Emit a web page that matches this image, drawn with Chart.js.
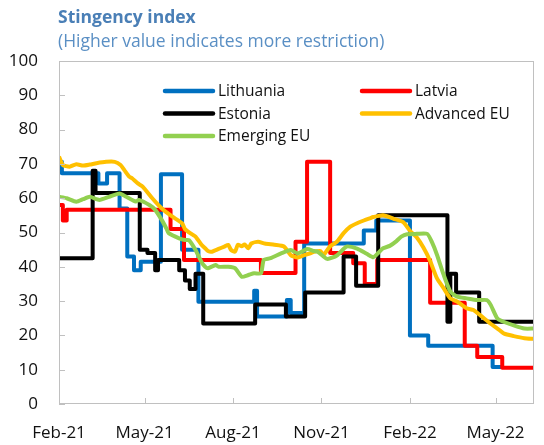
<!DOCTYPE html>
<html><head><meta charset="utf-8">
<script src="https://cdn.jsdelivr.net/npm/chart.js@4.4.1/dist/chart.umd.min.js"></script>
<style>html,body{margin:0;padding:0;background:#fff;} canvas{display:block;}</style>
</head><body>
<canvas id="c" width="544" height="445"></canvas>
<script>
// ---- data (x = days since 1 Feb 2021) ----
const tickDays = [0, 89, 181, 273, 365, 454];
const tickLabels = ['Feb-21', 'May-21', 'Aug-21', 'Nov-21', 'Feb-22', 'May-22'];
const seriesNames = ['Lithuania', 'Latvia', 'Estonia', 'Advanced EU', 'Emerging EU'];

const lithuaniaDays   = [0, 3, 41, 50, 63, 71, 78, 85, 106, 128, 145, 203, 206, 237, 241, 255, 317, 330, 365, 384, 451, 461];
const lithuaniaValues = [70.6, 67.3, 64.3, 67.3, 57, 43, 39, 41.5, 67, 45, 29.8, 33, 25.5, 30.3, 26.5, 46.8, 50.6, 53.5, 20, 17, 10.8, 10.8];

const latviaDays   = [0, 4, 8, 116, 130, 210, 246, 258, 282, 306, 318, 331, 386, 422, 435, 461, 494];
const latviaValues = [58, 53.5, 56.6, 51, 42, 38.2, 47.3, 70.6, 44, 41, 35, 42, 29.5, 17, 13.7, 10.6, 10.6];

const estoniaDays   = [0, 35, 38, 84, 92, 100, 103, 125, 131, 136, 142, 150, 204, 236, 256, 296, 309, 332, 404, 407, 413, 437, 494];
const estoniaValues = [42.5, 68, 61.5, 45, 44, 39, 42, 39, 36, 33.5, 38, 23.5, 29, 25.5, 32.5, 43, 34.5, 55, 24, 38, 32.5, 24, 24];

const advancedDays   = [0, 4, 11, 18, 25, 32, 39, 49, 58, 64, 68, 73, 76, 82, 87, 97, 107, 118, 128, 131, 138, 142, 148, 152, 155, 159, 166, 172, 176, 179, 183, 186, 190, 193, 197, 200, 207, 214, 224, 234, 241, 248, 255, 262, 265, 272, 275, 282, 289, 296, 303, 310, 317, 323, 327, 337, 348, 358, 365, 372, 379, 386, 393, 400, 407, 414, 424, 431, 438, 449, 456, 463, 473, 484, 494];
const advancedValues = [72.1, 69.7, 69.2, 69.9, 69.5, 69.8, 70.2, 70.6, 70.6, 69.7, 68.2, 66.3, 65.8, 64.3, 63.4, 60, 57, 54.6, 52.7, 51, 49.5, 48.8, 46.5, 45.4, 44.6, 44.4, 45.2, 45.9, 46.4, 44.9, 44.4, 46.4, 46, 46.5, 45.4, 46.8, 47.3, 46.8, 46.4, 45.9, 43.4, 42.7, 43.4, 44, 44.4, 44.6, 43.4, 46, 47.3, 49.8, 51.7, 52.7, 53.5, 54.1, 54.5, 55, 54, 53, 50.5, 48.6, 45.6, 41.7, 36.7, 33.8, 30.8, 29.9, 27.9, 27.4, 25.9, 23.4, 22, 20.5, 19.8, 19.2, 19];

const emergingDays   = [0, 8, 18, 25, 32, 42, 52, 63, 70, 80, 83, 94, 100, 107, 112, 114, 125, 131, 135, 142, 148, 152, 155, 163, 166, 176, 183, 190, 197, 203, 210, 213, 220, 231, 241, 248, 258, 265, 269, 279, 289, 299, 310, 320, 327, 332, 337, 344, 351, 356, 362, 372, 383, 388, 393, 400, 407, 414, 424, 435, 445, 449, 456, 463, 473, 484, 494];
const emergingValues = [60.4, 60, 59, 59.7, 60.4, 59.5, 60.4, 61.4, 60.4, 59, 59.5, 58, 56.6, 53.6, 51, 49.8, 48.3, 47.8, 47.8, 44.9, 41.5, 40, 39.6, 40.5, 40, 40, 39.6, 37.1, 37.6, 38.1, 38.1, 42, 42.5, 43.9, 44.9, 43.9, 45.2, 44.6, 44.4, 42.3, 43.3, 45.9, 45.3, 43.8, 42.8, 44, 45.4, 46.1, 47.5, 48.8, 49.5, 49.6, 49.6, 47.1, 43.6, 37.7, 32.8, 31.3, 30.8, 30.3, 30.3, 28.9, 24.9, 23.9, 22.9, 22, 22];

const xMin = 0, xMax = 494, yMin = 0, yMax = 100, yStep = 10;

// ---- helpers / styles ----
const colors = ['#0070C0', '#FF0000', '#000000', '#FFC000', '#92D050'];
const FONT = "'Open Sans', 'DejaVu Sans', sans-serif";
function pts(days, vals) { return days.map((d, i) => ({ x: d, y: vals[i] })); }

const datasets = [
  { label: seriesNames[0], data: pts(lithuaniaDays, lithuaniaValues), borderColor: colors[0], stepped: 'before', order: 5 },
  { label: seriesNames[1], data: pts(latviaDays, latviaValues), borderColor: colors[1], stepped: 'before', order: 4 },
  { label: seriesNames[2], data: pts(estoniaDays, estoniaValues), borderColor: colors[2], stepped: 'before', order: 3 },
  { label: seriesNames[3], data: pts(advancedDays, advancedValues), borderColor: colors[3], tension: 0.2, order: 2 },
  { label: seriesNames[4], data: pts(emergingDays, emergingValues), borderColor: colors[4], tension: 0.2, order: 1 }
].map(d => Object.assign({ borderWidth: 4, pointRadius: 0, fill: false, borderJoinStyle: 'round' }, d));

const legendLayout = [
  { ds: 0, x: 165, y: 91 }, { ds: 1, x: 362, y: 91 },
  { ds: 2, x: 165, y: 113.5 }, { ds: 3, x: 362, y: 113.5 },
  { ds: 4, x: 165, y: 136 }
];

const decor = {
  id: 'decor',
  afterDraw(chart) {
    const ctx = chart.ctx, a = chart.chartArea;
    const xs = chart.scales.x, ys = chart.scales.y;
    ctx.save();
    // plot border
    ctx.strokeStyle = '#c0c0c0'; ctx.lineWidth = 1;
    ctx.strokeRect(Math.round(a.left) + 0.5, Math.round(a.top) + 0.5, Math.round(a.right - a.left) - 1, Math.round(a.bottom - a.top) - 1);
    // inner tick marks
    ctx.beginPath();
    ys.ticks.forEach(t => {
      const y = Math.round(ys.getPixelForValue(t.value)) + 0.5;
      ctx.moveTo(a.left, y); ctx.lineTo(a.left + 6, y);
    });
    xs.ticks.forEach(t => {
      const x = Math.round(xs.getPixelForValue(t.value)) + 0.5;
      ctx.moveTo(x, a.bottom); ctx.lineTo(x, a.bottom - 6);
    });
    ctx.stroke();
    // title
    ctx.textBaseline = 'alphabetic'; ctx.textAlign = 'left';
    ctx.fillStyle = '#4a7fb6';
    ctx.font = "bold 17.5px " + FONT;
    ctx.fillText('Stingency index', 58, 23);
    ctx.fillStyle = '#5a8fc4';
    ctx.font = "17.5px " + FONT;
    ctx.fillText('(Higher value indicates more restriction)', 58, 47);
    // legend
    ctx.font = "15.5px " + FONT;
    ctx.textBaseline = 'middle';
    legendLayout.forEach(e => {
      const ds = chart.data.datasets[e.ds];
      ctx.strokeStyle = ds.borderColor; ctx.lineWidth = 4.5; ctx.lineCap = 'round';
      ctx.beginPath(); ctx.moveTo(e.x, e.y); ctx.lineTo(e.x + 48, e.y); ctx.stroke();
      ctx.fillStyle = '#111';
      ctx.fillText(ds.label, e.x + 53, e.y + 1);
    });
    ctx.restore();
  }
};

new Chart(document.getElementById('c'), {
  type: 'line',
  data: { datasets },
  options: {
    responsive: false, animation: false, devicePixelRatio: 1,
    layout: { padding: { top: 61, right: 5, left: 0, bottom: 0 } },
    plugins: { legend: { display: false }, tooltip: { enabled: false } },
    scales: {
      x: {
        type: 'linear', min: xMin, max: xMax,
        afterBuildTicks: s => { s.ticks = tickDays.map(v => ({ value: v })); },
        afterFit: s => { s.height = 41; },
        ticks: { autoSkip: false, maxRotation: 0, padding: 19, color: '#111', font: { family: FONT, size: 17 },
                 callback: v => tickLabels[tickDays.indexOf(v)] },
        grid: { display: false, drawTicks: false },
        border: { display: false }
      },
      y: {
        min: yMin, max: yMax,
        ticks: { stepSize: yStep, padding: 21, color: '#111', font: { family: FONT, size: 17 } },
        afterFit: s => { s.width = 59; },
        grid: { display: false, drawTicks: false },
        border: { display: false }
      }
    }
  },
  plugins: [decor]
});
</script>
</body></html>
